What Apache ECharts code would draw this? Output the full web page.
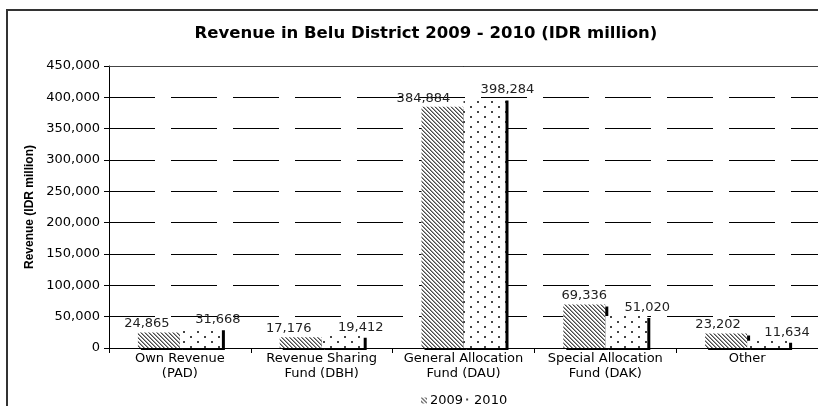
<!DOCTYPE html>
<html>
<head>
<meta charset="utf-8">
<script src="https://cdn.jsdelivr.net/npm/echarts@6/dist/echarts.min.js"></script>
<style>
  html, body { margin: 0; padding: 0; background: #fff; }
  #chart { width: 818px; height: 406px; }
</style>
</head>
<body>
<div id="chart"></div>
<script>
// Revenue sources of Belu District, IDR million
const categories = [
  'Own Revenue\n(PAD)',
  'Revenue Sharing\nFund (DBH)',
  'General Allocation\nFund (DAU)',
  'Special Allocation\nFund (DAK)',
  'Other'
];
const revenue2009 = [24865, 17176, 384884, 69336, 23202];
const revenue2010 = [31668, 19412, 398284, 51020, 11634];
const seriesNames = ['2009', '2010'];
const yTicks = { min: 0, max: 450000, step: 50000 };

// horizontal nudges for value labels (px), so pairs don't collide
const labelNudge2009 = [-12, -12, -19, 0, -8];
const labelNudge2010 = [17, 18, 23, 21, 19];

// Fill tiles: diagonal hatch for 2009, scattered dots for 2010
function makeHatch() {
  const c = document.createElement('canvas');
  c.width = 4; c.height = 4;
  const g = c.getContext('2d');
  g.fillStyle = '#fff'; g.fillRect(0, 0, 4, 4);
  for (let y = 0; y < 4; y++) {
    g.fillStyle = '#4a4a4a';
    g.fillRect(y, y, 1, 1);
    g.fillStyle = '#9a9a9a';
    g.fillRect((y + 1) % 4, y, 1, 1);
  }
  return c;
}
function makeDots() {
  const c = document.createElement('canvas');
  c.width = 14; c.height = 10;
  const g = c.getContext('2d');
  g.fillStyle = '#fff'; g.fillRect(0, 0, 14, 10);
  g.fillStyle = '#444';
  g.fillRect(1, 1, 2, 2);
  g.fillRect(8, 6, 2, 2);
  return c;
}
const hatchFill = { image: makeHatch(), repeat: 'repeat' };
const dotFill = { image: makeDots(), repeat: 'repeat' };

const fmt = v => Number(v).toLocaleString('en-US');
const FONT = 'DejaVu Sans';

function barData(values, nudges) {
  return values.map((v, i) => ({ value: v, label: { offset: [nudges[i], 0] } }));
}

const barStyle = fill => ({
  color: fill,
  shadowColor: '#000',
  shadowBlur: 0,
  shadowOffsetX: 3,
  shadowOffsetY: 2
});

const valueLabel = {
  show: true,
  position: 'top',
  distance: 2,
  fontFamily: FONT,
  fontSize: 13,
  color: '#222',
  formatter: p => fmt(p.value)
};

const chart = echarts.init(document.getElementById('chart'), null, { renderer: 'canvas' });
chart.setOption({
  animation: false,
  backgroundColor: '#fff',
  graphic: [{
    type: 'rect',
    z: -10,
    shape: { x: 7, y: 10, width: 900, height: 500 },
    style: { fill: 'none', stroke: '#333', lineWidth: 2 }
  }],
  title: {
    text: 'Revenue in Belu District 2009 - 2010 (IDR million)',
    left: 421,
    top: 20,
    textAlign: 'center',
    textStyle: { fontFamily: FONT, fontWeight: 'bold', fontSize: 16.5, color: '#000' }
  },
  legend: {
    data: seriesNames,
    left: 416,
    top: 389,
    itemWidth: 6,
    itemHeight: 6,
    itemGap: 2,
    icon: 'rect',
    itemStyle: { shadowColor: 'rgba(0,0,0,0)', shadowOffsetX: 0, shadowOffsetY: 0 },
    textStyle: { fontFamily: FONT, fontSize: 13, color: '#000', padding: [0, 0, 0, -2] }
  },
  grid: {
    left: 109, top: 66, right: -4, bottom: 58,
    show: false
  },
  xAxis: [
    {
      type: 'category',
      data: categories,
      axisLine: { lineStyle: { color: '#000', width: 1 } },
      axisTick: { show: true, length: 5, lineStyle: { color: '#000' } },
      axisLabel: {
        fontFamily: FONT, fontSize: 13, color: '#000',
        lineHeight: 15, margin: 3, interval: 0
      }
    },
    {
      // top edge of the plot area
      type: 'category',
      position: 'top',
      data: categories,
      axisLine: { show: true, lineStyle: { color: '#444', width: 1 } },
      axisTick: { show: false },
      axisLabel: { show: false }
    }
  ],
  yAxis: {
    type: 'value',
    min: yTicks.min,
    max: yTicks.max,
    interval: yTicks.step,
    name: 'Revenue (IDR million)',
    nameLocation: 'middle',
    nameGap: 71,
    nameTextStyle: { fontFamily: 'Liberation Sans', fontWeight: 'bold', fontSize: 12, color: '#000' },
    axisLine: { show: true, lineStyle: { color: '#000', width: 1 } },
    axisTick: { show: true, length: 5, lineStyle: { color: '#000' } },
    axisLabel: { fontFamily: FONT, fontSize: 13, color: '#000', margin: 9, formatter: fmt },
    splitLine: { show: true, lineStyle: { color: '#000', width: 1, type: [46, 16] } }
  },
  series: [
    {
      name: seriesNames[0],
      type: 'bar',
      barWidth: 42,
      barGap: '0%',
      itemStyle: barStyle(hatchFill),
      label: valueLabel,
      data: barData(revenue2009, labelNudge2009)
    },
    {
      name: seriesNames[1],
      type: 'bar',
      barWidth: 42,
      barGap: '0%',
      itemStyle: barStyle(dotFill),
      label: valueLabel,
      data: barData(revenue2010, labelNudge2010)
    }
  ]
});
</script>
</body>
</html>
